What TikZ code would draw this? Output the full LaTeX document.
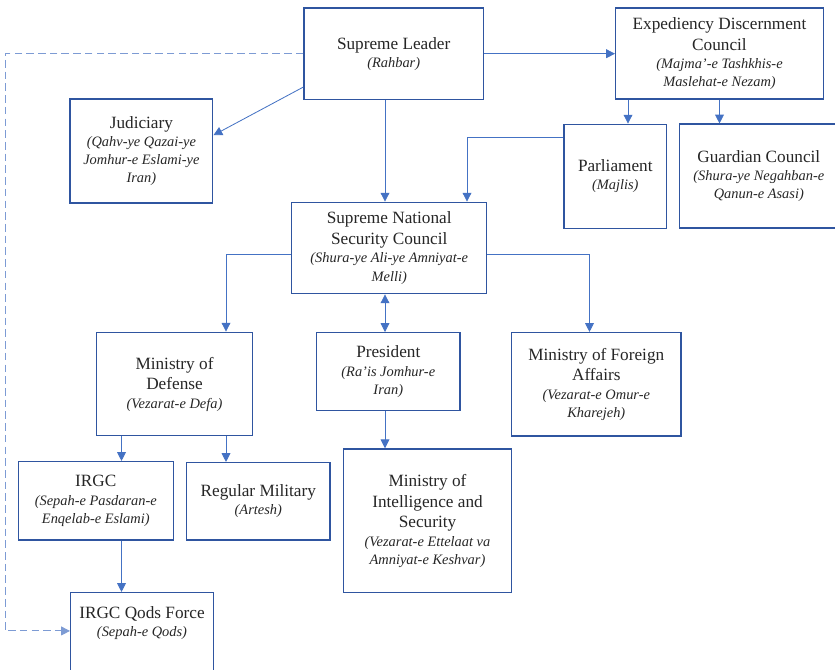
\documentclass[tikz,border=0pt]{standalone}
\usepackage{fontspec}
\setmainfont{Liberation Serif}
\usetikzlibrary{arrows.meta,calc}
\definecolor{boxblue}{RGB}{47,85,160}
\definecolor{linkblue}{RGB}{68,114,196}
\definecolor{dashblue}{RGB}{125,155,212}
\definecolor{inkgray}{RGB}{38,38,38}
\newcommand{\farsi}{\fontsize{12.3}{15}\selectfont\itshape}

\begin{document}
\begin{tikzpicture}[x=0.03cm, y=-0.03cm,
        box/.style={draw=boxblue, line width=1.2pt, fill=white, text=inkgray, align=center, inner sep=1pt, font=\fontsize{14.7}{17.7}\selectfont},
        boxsize/.style 2 args={minimum width=#1*0.03cm, minimum height=#2*0.03cm},
        link/.style={draw=linkblue, line width=0.7pt, -{Triangle[length=7.5pt,width=7.5pt]}},
        dashlink/.style={draw=dashblue, line width=0.8pt, dash pattern=on 6.5pt off 3.5pt, -{Triangle[length=7.5pt,width=7.5pt]}}]
        \clip (0,0) rectangle (835,670);
        \fill[white] (0,0) rectangle (835,670);
        % boxes
        \node[box, boxsize={179.3}{91.3}] (lead) at (393.7,53.7) {Supreme Leader\\[-2.5pt]{\farsi (Rahbar)}};
        \node[box, boxsize={207.6}{91}] (exped) at (719.5,53.5) {Expediency Discernment\\Council\\[-2.1pt]{\farsi (Majma'-e Tashkhis-e}\\[-2.2pt]{\farsi Maslehat-e Nezam)}};
        \node[box, boxsize={142.7}{104}] (jud) at (141.4,151) {Judiciary\\[-2.1pt]{\farsi (Qahv-ye Qazai-ye}\\[-2.2pt]{\farsi Jomhur-e Eslami-ye}\\[-2.2pt]{\farsi Iran)}};
        \node[box, boxsize={102.7}{104}] (parl) at (615.3,176.3) {Parliament\\[-2.1pt]{\farsi (Majlis)}};
        \node[box, boxsize={158.3}{103.7}] (guard) at (758.8,176) {Guardian Council\\[-2.1pt]{\farsi (Shura-ye Negahban-e}\\[-2.2pt]{\farsi Qanun-e Asasi)}};
        \node[box, boxsize={195}{91.4}] (snsc) at (389.2,248) {Supreme National\\Security Council\\[-2.1pt]{\farsi (Shura-ye Ali-ye Amniyat-e}\\[-2.2pt]{\farsi Melli)}};
        \node[box, boxsize={155.6}{103.4}] (mod) at (174.5,384) {Ministry of\\Defense\\[-2.1pt]{\farsi (Vezarat-e Defa)}};
        \node[box, boxsize={143.3}{77.6}] (pres) at (388.3,371.5) {President\\[-2.1pt]{\farsi (Ra'is Jomhur-e}\\[-2.2pt]{\farsi Iran)}};
        \node[box, boxsize={169.3}{103.3}] (mfa) at (596.3,384.3) {Ministry of Foreign\\Affairs\\[-2.1pt]{\farsi (Vezarat-e Omur-e}\\[-2.2pt]{\farsi Kharejeh)}};
        \node[box, boxsize={155}{78.3}] (irgc) at (95.8,500.8) {IRGC\\[-2.1pt]{\farsi (Sepah-e Pasdaran-e}\\[-2.2pt]{\farsi Enqelab-e Eslami)}};
        \node[box, boxsize={143.3}{77.3}] (reg) at (258.3,501.3) {Regular Military\\[-2.1pt]{\farsi (Artesh)}};
        \node[box, boxsize={168.4}{143.7}] (mis) at (427.5,520.8) {Ministry of\\Intelligence and\\Security\\[-2.1pt]{\farsi (Vezarat-e Ettelaat va}\\[-2.2pt]{\farsi Amniyat-e Keshvar)}};
        \node[box, boxsize={142.6}{107.3}] (qods) at (142,646.3) {};
        \node[text=inkgray, align=center, font=\fontsize{14.7}{17.7}\selectfont] (qodstext) at (142,623) {IRGC Qods Force\\[-2.1pt]{\farsi (Sepah-e Qods)}};
        % turning points
        \coordinate (spine) at (385,0);
        \coordinate (parlx) at (628,0);
        \coordinate (parlturn) at (467,0);
        \coordinate (milx) at (226,0);
        \coordinate (mfax) at (589.5,0);
        \coordinate (irgcx) at (121.5,0);
        \coordinate (edge) at (5,0);
        \coordinate (qodsin) at ($(qods.north west)+(0,39)$);
        % links
        \draw[link] (lead.east) -- (lead.east -| exped.west);
        \draw[link] ($(lead.south west)+(0,-13)$) -- ($(jud.north east)!0.35!(jud.south east)$);
        \draw[link] (lead.south -| spine) -- (snsc.north -| spine);
        \draw[dashlink] (lead.west) -- (lead.west -| edge) -- (edge |- qodsin) -- (qodsin);
        \draw[link] (exped.south -| parlx) -- (parl.north -| parlx);
        \draw[link] (exped.south) -- (exped.south |- guard.north);
        \draw[link] ($(parl.north west)+(0,14)$) -| (snsc.north -| parlturn);
        \draw[link] ($(snsc.west)+(0,6.5)$) -| (mod.north -| milx);
        \draw[link] ($(snsc.east)+(0,6.5)$) -| (mfa.north -| mfax);
        \draw[link, {Triangle[length=7.5pt,width=7.5pt]}-{Triangle[length=7.5pt,width=7.5pt]}] (snsc.south -| spine) -- (pres.north -| spine);
        \draw[link] (pres.south -| spine) -- (mis.north -| spine);
        \draw[link] (mod.south -| irgcx) -- (irgc.north -| irgcx);
        \draw[link] (mod.south -| milx) -- (reg.north -| milx);
        \draw[link] (irgc.south -| irgcx) -- (qods.north -| irgcx);
    \end{tikzpicture}
\end{document}
